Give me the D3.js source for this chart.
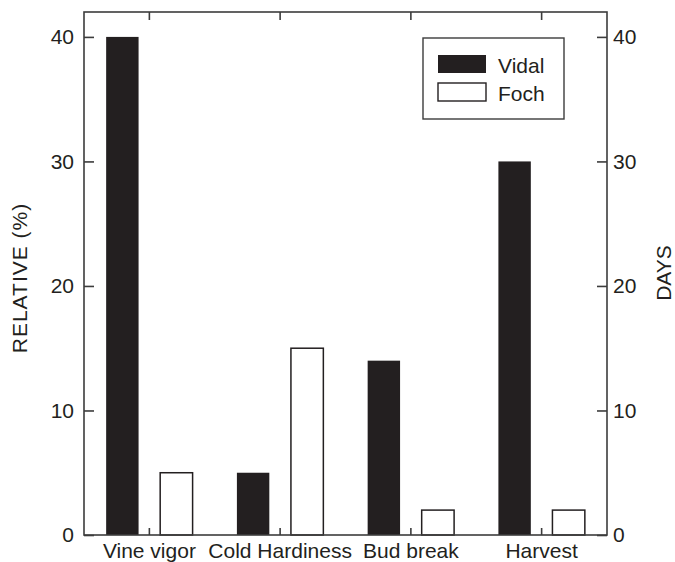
<!DOCTYPE html>
<html>
<head>
<meta charset="utf-8">
<script src="https://cdn.jsdelivr.net/npm/d3@7"></script>
<style>
  body { margin: 0; background: #fff; }
  svg text { font-family: "Liberation Sans", Arial, sans-serif; fill: #231f20; }
</style>
</head>
<body>
<svg id="chart" width="675" height="562"></svg>
<script>
// Vidal vs Foch comparison — grouped bars with boxed frame

const categories = ['Vine vigor', 'Cold Hardiness', 'Bud break', 'Harvest'];
const seriesNames = ['Vidal', 'Foch'];
const vidal = [40, 5, 14, 30];
const foch = [5, 15, 2, 2];
const yTicks = [0, 10, 20, 30, 40];

const W = 675, H = 562;
const margin = { top: 12, right: 68, bottom: 27, left: 84 };
const innerW = W - margin.left - margin.right;
const innerH = H - margin.top - margin.bottom;
const ink = '#231f20';
const frameColor = '#3c3c3c';
const fontSize = 21;

const svg = d3.select('#chart');
const g = svg.append('g').attr('transform', `translate(${margin.left},${margin.top})`);

const x0 = d3.scaleBand().domain(categories).range([0, innerW]).padding(0);
const x1 = d3.scaleBand().domain(seriesNames).range([0, x0.bandwidth()])
    .paddingInner(0.4).paddingOuter(0.41);
const y = d3.scaleLinear().domain([0, 42]).range([innerH, 0]);

const rows = categories.map((c, i) => ({ cat: c, values: [
    { key: 'Vidal', value: vidal[i] },
    { key: 'Foch', value: foch[i] },
]}));

// bars
const groups = g.selectAll('.grp')
    .data(rows)
    .enter()
    .append('g')
    .attr('class', 'grp')
    .attr('transform', d => `translate(${x0(d.cat)},0)`);

groups.selectAll('rect')
    .data(d => d.values)
    .enter()
    .append('rect')
    .attr('x', d => x1(d.key))
    .attr('y', d => y(d.value))
    .attr('width', x1.bandwidth())
    .attr('height', d => innerH - y(d.value))
    .attr('fill', d => d.key === 'Vidal' ? ink : '#fff')
    .attr('stroke', ink)
    .attr('stroke-width', d => d.key === 'Vidal' ? 0 : 1.5);

// frame
g.append('rect')
    .attr('x', 0).attr('y', 0)
    .attr('width', innerW).attr('height', innerH)
    .attr('fill', 'none')
    .attr('stroke', frameColor)
    .attr('stroke-width', 1.6);

// axes
const styleAxis = sel => {
    sel.select('.domain').remove();
    sel.selectAll('.tick line').attr('stroke', frameColor).attr('stroke-width', 1.6);
    sel.selectAll('.tick text').style('font-size', fontSize + 'px').attr('fill', ink);
};

g.append('g')
    .call(d3.axisLeft(y).tickValues(yTicks).tickSize(-10).tickPadding(10).tickFormat(d3.format('d')))
    .call(styleAxis);

g.append('g')
    .attr('transform', `translate(${innerW},0)`)
    .call(d3.axisRight(y).tickValues(yTicks).tickSize(-10).tickPadding(6).tickFormat(d3.format('d')))
    .call(styleAxis);

g.append('g')
    .attr('transform', `translate(0,${innerH})`)
    .call(d3.axisBottom(x0).tickSize(-7).tickPadding(0))
    .call(styleAxis)
    .call(s => s.selectAll('.tick text').attr('y', 22.5).attr('dy', 0));

g.append('g')
    .call(d3.axisTop(x0).tickSize(-8).tickFormat(''))
    .call(styleAxis);

// axis titles
svg.append('text')
    .attr('transform', `translate(27,278) rotate(-90)`)
    .attr('text-anchor', 'middle')
    .style('font-size', fontSize + 'px')
    .style('letter-spacing', '1px')
    .text('RELATIVE (%)');

svg.append('text')
    .attr('transform', `translate(671,273) rotate(-90)`)
    .attr('text-anchor', 'middle')
    .style('font-size', fontSize + 'px')
    .text('DAYS');

// legend
const legend = svg.append('g').attr('transform', 'translate(423,38)');
legend.append('rect')
    .attr('width', 141).attr('height', 81)
    .attr('fill', '#fff')
    .attr('stroke', frameColor)
    .attr('stroke-width', 1.4);

const items = legend.selectAll('.item')
    .data(seriesNames)
    .enter()
    .append('g')
    .attr('class', 'item')
    .attr('transform', (d, i) => `translate(15,${17 + i * 28})`);

items.append('rect')
    .attr('width', 48).attr('height', 18)
    .attr('fill', d => d === 'Vidal' ? ink : '#fff')
    .attr('stroke', ink)
    .attr('stroke-width', d => d === 'Vidal' ? 0 : 1.4);

items.append('text')
    .attr('x', 60).attr('y', 17.5)
    .style('font-size', fontSize + 'px')
    .text(d => d);
</script>
</body>
</html>
